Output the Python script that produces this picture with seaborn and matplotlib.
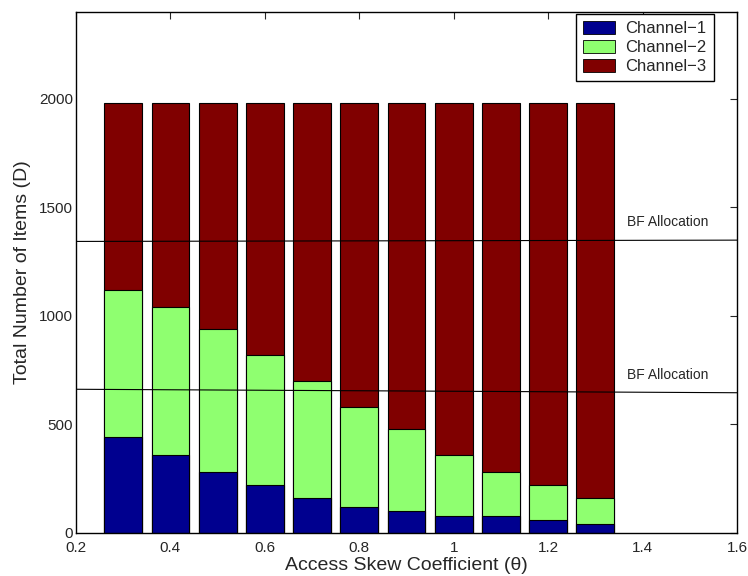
import matplotlib
matplotlib.use('Agg')
import matplotlib.pyplot as plt
import seaborn as sns
import pandas as pd
from matplotlib.patches import Patch

# skew coefficient values and items per channel
theta = [0.3, 0.4, 0.5, 0.6, 0.7, 0.8, 0.9, 1.0, 1.1, 1.2, 1.3]
channel1 = [440, 360, 280, 220, 160, 120, 100, 80, 80, 60, 40]
channel2 = [680, 680, 660, 600, 540, 460, 380, 280, 200, 160, 120]
channel3 = [860, 940, 1040, 1160, 1280, 1400, 1500, 1620, 1700, 1760, 1820]

# BF allocation boundaries (left end, right end)
bf_x = [0.2, 1.6]
bf_upper = [1343, 1349]
bf_lower = [662, 646]

colors = ['#00008f', '#8fff70', '#800000']
labels = ['Channel\u22121', 'Channel\u22122', 'Channel\u22123']

sns.set_style('white')
plt.rcParams['font.family'] = ['Liberation Sans', 'DejaVu Sans']
plt.rcParams['xtick.direction'] = 'in'
plt.rcParams['ytick.direction'] = 'in'

df = pd.DataFrame({'theta': theta, 'c1': channel1, 'c2': channel2, 'c3': channel3})
df['cum2'] = df['c1'] + df['c2']
df['cum3'] = df['cum2'] + df['c3']

fig = plt.figure(figsize=(7.48, 5.76), dpi=100)
ax = fig.add_axes([0.1016, 0.0747, 0.8837, 0.9045])

# stacked look: draw the totals first, then the lower parts on top
for col, c in [('cum3', colors[2]), ('cum2', colors[1]), ('c1', colors[0])]:
    sns.barplot(data=df, x='theta', y=col, native_scale=True, width=0.8,
                color=c, saturation=1, errorbar=None, edgecolor='black',
                linewidth=0.8, ax=ax)

ax.plot(bf_x, bf_upper, color='black', lw=0.8)
ax.plot(bf_x, bf_lower, color='black', lw=0.8)
ax.text(1.367, 1433, 'BF Allocation', fontsize=10, va='center')
ax.text(1.367, 728, 'BF Allocation', fontsize=10, va='center')

ax.set_xlim(0.2, 1.6)
ax.set_ylim(0, 2400)
ax.set_xticks([0.2, 0.4, 0.6, 0.8, 1.0, 1.2, 1.4, 1.6])
ax.set_xticklabels(['0.2', '0.4', '0.6', '0.8', '1', '1.2', '1.4', '1.6'])
ax.set_yticks([0, 500, 1000, 1500, 2000])
ax.tick_params(axis='both', labelsize=11, length=5, width=0.8,
               top=True, right=True)
ax.tick_params(axis='x', pad=6)
ax.tick_params(axis='y', pad=2)
for s in ax.spines.values():
    s.set_linewidth(1.0)
    s.set_color('black')

ax.set_xlabel('Access Skew Coefficient (\u03b8)', fontsize=14, labelpad=1)
ax.set_ylabel('Total Number of Items (D)', fontsize=14, labelpad=6)

handles = [Patch(facecolor=colors[i], edgecolor='black', linewidth=0.6, label=labels[i])
           for i in range(3)]
ax.legend(handles=handles, loc='upper right', bbox_to_anchor=(0.965, 0.997),
          fontsize=12, frameon=True, fancybox=False, edgecolor='black',
          framealpha=1, borderaxespad=0, handlelength=1.9, handleheight=0.85,
          labelspacing=0.2, borderpad=0.45, handletextpad=0.6)

fig.savefig('out.png', dpi=100)
